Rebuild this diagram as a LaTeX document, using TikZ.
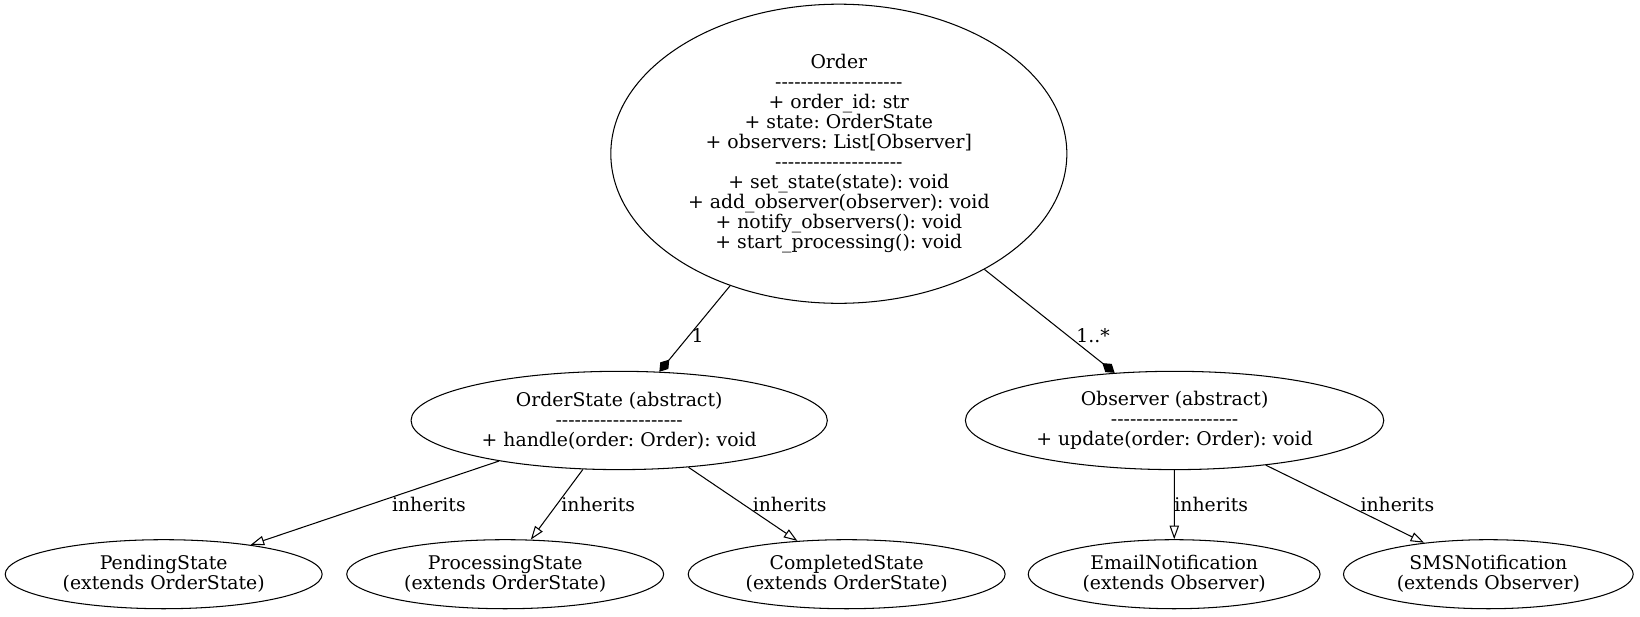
\documentclass[tikz,border=0pt]{standalone}
\usepackage{fontspec}
\newfontfamily\dvs{DejaVu Serif}
\usetikzlibrary{shapes.geometric,arrows.meta}
\newcommand\clsrule{--------------------}
\frenchspacing
\begin{document}
\begin{tikzpicture}[x=1pt,y=-1pt,
  cls/.style={ellipse,draw,line width=1pt,inner sep=0pt,align=center,
    font=\dvs\fontsize{18}{19.1}\selectfont\frenchspacing},
  lbl/.style={font=\dvs\fontsize{18}{19.1}\selectfont\frenchspacing,inner sep=0pt},
  comp/.style={line width=1pt,-{Diamond[length=15pt,width=10pt]}},
  inh/.style={line width=1pt,-{Triangle[open,length=13pt,width=9pt]}}]
\useasboundingbox (0,0) rectangle (1568,589);
\node[cls,minimum width=436pt,minimum height=286pt] (order) at (802,147)
  {Order\\\clsrule\\+ order\_id: str\\+ state: OrderState\\+ observers: List[Observer]\\\clsrule\\+ set\_state(state): void\\+ add\_observer(observer): void\\+ notify\_observers(): void\\+ start\_processing(): void};
\node[cls,minimum width=398pt,minimum height=94pt] (ostate) at (592,402)
  {OrderState (abstract)\\\clsrule\\+ handle(order: Order): void};
\node[cls,minimum width=400pt,minimum height=94pt] (obs) at (1123,402)
  {Observer (abstract)\\\clsrule\\+ update(order: Order): void};
\node[cls,minimum width=303pt,minimum height=66pt] (pend) at (156.5,549)
  {PendingState\\(extends OrderState)};
\node[cls,minimum width=303pt,minimum height=66pt] (proc) at (483,549)
  {ProcessingState\\(extends OrderState)};
\node[cls,minimum width=303pt,minimum height=66pt] (compl) at (809.5,549)
  {CompletedState\\(extends OrderState)};
\node[cls,minimum width=279pt,minimum height=66pt] (email) at (1122.6,549)
  {EmailNotification\\(extends Observer)};
\node[cls,minimum width=277pt,minimum height=66pt] (sms) at (1423,549)
  {SMSNotification\\(extends Observer)};
\draw[comp] (order) -- (ostate);
\draw[comp] (order) -- (obs);
\draw[inh] (ostate) -- (pend);
\draw[inh] (ostate) -- (proc);
\draw[inh] (ostate) -- (compl);
\draw[inh] (obs) -- (email);
\draw[inh] (obs) -- (sms);
\node[lbl] (l1) at (667,321) {1};
\node[lbl] (l2) at (1045,321) {1..*};
\node[lbl] (i1) at (410,482) {inherits};
\node[lbl] (i2) at (572,482) {inherits};
\node[lbl] (i3) at (755,482) {inherits};
\node[lbl] (i4) at (1158,482) {inherits};
\node[lbl] (i5) at (1336,482) {inherits};
\end{tikzpicture}
\end{document}
